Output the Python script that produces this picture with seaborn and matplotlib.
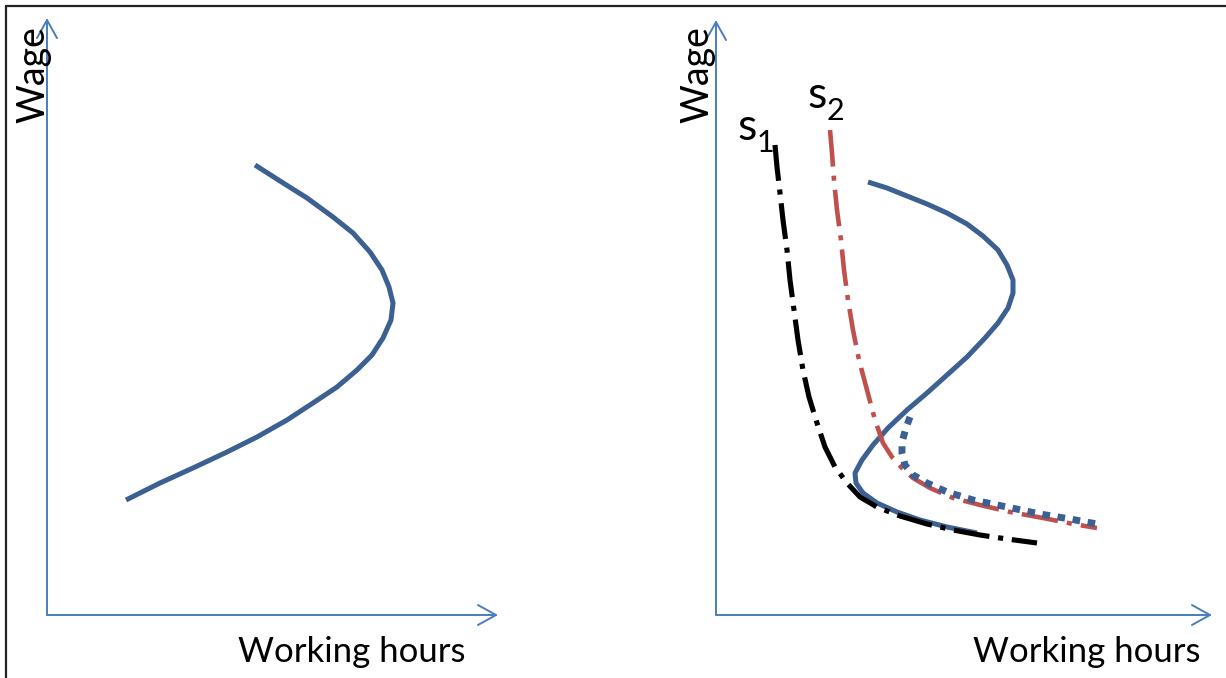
import numpy as np
import pandas as pd
import matplotlib
matplotlib.use("Agg")
import matplotlib.pyplot as plt
import seaborn as sns
from matplotlib.lines import Line2D

# ---------------- data (hours, wage) in axis units ----------------
left_hours = [208, 233, 260, 286, 306, 323, 335, 342, 346, 344, 336, 325, 310, 290,
              266, 240, 210, 180, 146, 113, 79]
left_wage = [450, 434, 417, 398, 382, 363, 345, 328, 312, 295, 277, 260, 245, 228,
             212, 195, 178, 163, 147, 132, 115]

main_hours = [152, 171, 191, 211, 231, 251, 267, 282, 291, 297, 297, 292, 282, 269,
              251, 231, 211, 191, 172, 157, 146, 139, 140, 147, 161, 181, 204, 231, 261]
main_wage = [433, 427, 419, 411, 402, 391, 379, 365, 350, 335, 322, 307, 292, 277,
             258, 240, 222, 205, 187, 170, 155, 142, 132, 122, 112, 103, 95, 88, 82]

s1_hours = [59, 61, 64, 67, 71, 74, 78, 82, 87, 93, 101, 109, 119, 131, 144, 161,
            184, 211, 237, 264, 291, 321]
s1_wage = [470, 448, 422, 395, 365, 335, 305, 275, 245, 218, 192, 168, 148, 132, 118,
           108, 99, 91, 85, 80, 76, 72]

s2_hours = [114, 116, 118, 121, 125, 128, 132, 137, 143, 151, 159, 167, 176, 186,
            197, 214, 237, 264, 294, 327, 357, 381]
s2_wage = [485, 462, 435, 405, 375, 345, 315, 285, 255, 225, 195, 172, 158, 147,
           137, 127, 117, 110, 103, 97, 91, 87]

dot_hours = [194, 190, 186, 186, 189, 197, 211, 231, 257, 291, 324, 354, 381]
dot_wage = [198, 187, 173, 162, 150, 140, 132, 123, 115, 108, 101, 96, 91]

x_label = "Working hours"
y_label = "Wage"
s1_label = ("s", "1")
s2_label = ("s", "2")

# ---------------- style ----------------
sns.set_theme(style="white")
plt.rcParams["font.family"] = ["Lato", "DejaVu Sans"]

W, H = 1226, 678
fig = plt.figure(figsize=(W / 100, H / 100), dpi=100)
fig.patch.set_facecolor("white")


def fx(x):
    return x / W


def fy(y):
    return 1 - y / H


BLUE = "#3B6091"
AXIS_BLUE = "#4A7EBB"
RED = "#C0504D"

axL = fig.add_axes([fx(47), fy(615), 451 / W, 597 / H])
axR = fig.add_axes([fx(716), fy(615), 496 / W, 595 / H])
axL.set_xlim(0, 451)
axL.set_ylim(0, 597)
axR.set_xlim(0, 496)
axR.set_ylim(0, 595)

for ax in (axL, axR):
    ax.set_axis_off()
    ax.patch.set_alpha(0)
    arrow = dict(arrowstyle="->,head_length=0.65,head_width=0.36", color=AXIS_BLUE,
                 lw=1.4, shrinkA=0, shrinkB=0, mutation_scale=20)
    ax.annotate("", xy=(1, 0), xytext=(0, 0), xycoords="axes fraction",
                textcoords="axes fraction", arrowprops=arrow, annotation_clip=False)
    ax.annotate("", xy=(0, 1), xytext=(0, 0), xycoords="axes fraction",
                textcoords="axes fraction", arrowprops=arrow, annotation_clip=False)

# left panel curve
sns.lineplot(x=left_hours, y=left_wage, sort=False, estimator=None, ax=axL,
             color=BLUE, lw=3.6, solid_capstyle="butt", solid_joinstyle="round")

# right panel curves
sns.lineplot(x=main_hours, y=main_wage, sort=False, estimator=None, ax=axR,
             color=BLUE, lw=3.6, solid_capstyle="butt", solid_joinstyle="round")
sns.lineplot(x=s1_hours, y=s1_wage, sort=False, estimator=None, ax=axR,
             color="black", lw=3.7, linestyle=(0, (7.0, 1.7, 1.0, 1.7)))
sns.lineplot(x=s2_hours, y=s2_wage, sort=False, estimator=None, ax=axR,
             color=RED, lw=3.3, linestyle=(0, (8.0, 2.0, 1.1, 2.0)))
sns.lineplot(x=dot_hours, y=dot_wage, sort=False, estimator=None, ax=axR,
             color=BLUE, lw=5.0, linestyle=(0, (1.1, 1.1)))

# labels
for cx in (33, 697):
    fig.text(fx(cx), fy(75), y_label, rotation=90, ha="center", va="center",
             fontsize=27, color="black")
for cx in (352, 1087):
    fig.text(fx(cx), fy(662), x_label, ha="center", va="baseline",
             fontsize=25, color="black")

fig.text(fx(737), fy(140), s1_label[0], ha="left", va="baseline", fontsize=32, color="black")
fig.text(fx(757), fy(152), s1_label[1], ha="left", va="baseline", fontsize=22, color="black")
fig.text(fx(807), fy(108), s2_label[0], ha="left", va="baseline", fontsize=32, color="black")
fig.text(fx(827), fy(120), s2_label[1], ha="left", va="baseline", fontsize=22, color="black")

# frame lines at top and left
fig.add_artist(Line2D([fx(6), 1], [fy(6), fy(6)], color="#222222", lw=1.6))
fig.add_artist(Line2D([fx(6), fx(6)], [0, fy(6)], color="#222222", lw=1.6))

fig.savefig("out.png", dpi=100, facecolor="white")
